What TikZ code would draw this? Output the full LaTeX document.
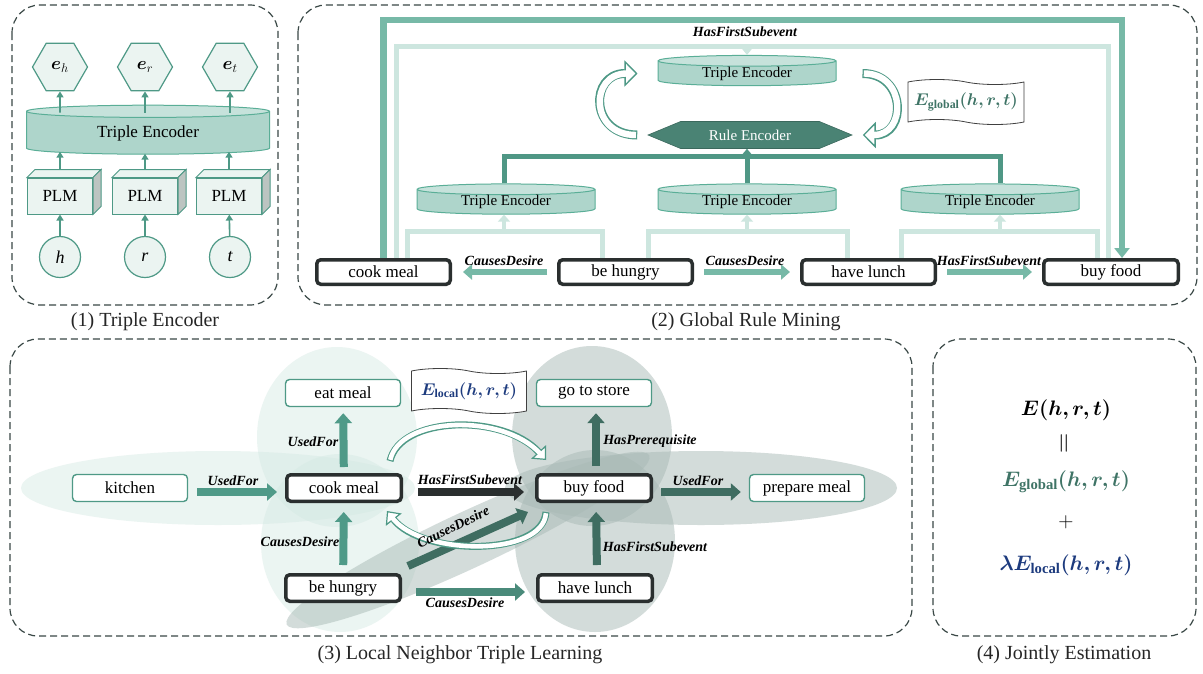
\RequirePackage{fix-cm}
\documentclass[tikz,border=0pt]{standalone}
\usepackage{amsmath,bm}
\usepackage{fontspec}
\setmainfont{Liberation Serif}
\usetikzlibrary{shapes.geometric,shapes.symbols,arrows.meta,calc}
\definecolor{tealline}{HTML}{4E9986}
\definecolor{tealfill}{HTML}{EBF4F1}
\definecolor{encfill}{HTML}{AED5CB}
\definecolor{encline}{HTML}{5AAE97}
\definecolor{ruleteal}{HTML}{4A8374}
\definecolor{ruleline}{HTML}{4F9785}
\definecolor{midteal}{HTML}{77B9A7}
\definecolor{paleteal}{HTML}{CDE6DF}
\definecolor{linkteal}{HTML}{4F9A88}
\definecolor{lowteal}{HTML}{4A8A7A}
\definecolor{deepteal}{HTML}{3F6D61}
\definecolor{darkbox}{HTML}{2A2F2F}
\definecolor{frame}{HTML}{3A4846}
\definecolor{navy}{HTML}{1D3B7E}
\definecolor{globteal}{HTML}{3F7466}
\definecolor{sidegray}{HTML}{BCC4C1}
\definecolor{halo}{HTML}{D4E9E3}
\definecolor{mist}{HTML}{A9BAB6}
\begin{document}
\begin{tikzpicture}[x=1pt,y=-1pt,
  panel/.style={draw=frame,line width=1.2pt,dash pattern=on 7pt off 4pt,rounded corners=28pt},
  caption/.style={font=\fontsize{20}{24}\selectfont,text=black!85},
  event/.style={draw=darkbox,line width=3.5pt,fill=white,rounded corners=4pt,inner sep=0pt,font=\fontsize{17}{20}\selectfont},
  nbr/.style={draw=tealline,line width=1.4pt,fill=white,rounded corners=4pt,inner sep=0pt,minimum width=115pt,minimum height=27pt,font=\fontsize{17}{20}\selectfont},
  rel/.style={font=\fontsize{14}{16}\selectfont\bfseries\itshape,inner sep=0pt},
  encoder/.style={cylinder,shape border rotate=90,aspect=.12,draw=encline,line width=1pt,cylinder uses custom fill,cylinder body fill=encfill,cylinder end fill=encfill!70!white,inner sep=0pt},
  hexa/.style={regular polygon,regular polygon sides=6,minimum size=55pt,draw=tealline,line width=1.2pt,fill=tealfill,inner sep=0pt,font=\fontsize{18}{20}\selectfont},
  plm/.style={draw=tealline,line width=1pt,fill=tealfill,minimum width=65pt,minimum height=36pt,inner sep=0pt,font=\fontsize{17}{20}\selectfont},
  leaf/.style={circle,draw=tealline,line width=1.2pt,fill=tealfill,minimum size=41pt,inner sep=0pt,font=\fontsize{18}{20}\selectfont\itshape},
  thin/.style={draw=tealline,line width=1.6pt,-{Triangle[width=7pt,length=6pt]}},
  fatG/.style={line width=6.5pt,-{Triangle[width=15pt,length=9pt]}},
  fatL/.style={line width=8pt,-{Triangle[width=17pt,length=10pt]}},
  hollowG/.style={line width=9pt,draw=tealline,-{Triangle[width=26pt,length=13pt,line width=1.3pt,fill=white]},postaction={draw=white,line width=6.4pt,-,shorten <=1.3pt,shorten >=11pt}},
  hollowL/.style={line width=7pt,draw=tealline,-{Triangle[width=20pt,length=11pt,line width=1.2pt,fill=white]},postaction={draw=white,line width=4.6pt,-,shorten <=1.2pt,shorten >=9pt}}]
\useasboundingbox (0,0) rectangle (1203,673);
\fill[white] (0,0) rectangle (1203,673);

\draw[panel] (12,5) rectangle (278,305);
\draw[panel] (298,5) rectangle (1197,305);
\draw[panel] (10,339) rectangle (912,636);
\draw[panel] (933,339) rectangle (1196,636);
\node[caption] (cap1) at (145,322) {(1) Triple Encoder};
\node[caption] (cap2) at (746,322) {(2) Global Rule Mining};
\node[caption] (cap3) at (460,655) {(3) Local Neighbor Triple Learning};
\node[caption] (cap4) at (1064,655) {(4) Jointly Estimation};

\node[hexa] (eh) at (60,67) {$\bm{e}_h$};
\node[hexa] (er) at (145,67) {$\bm{e}_r$};
\node[hexa] (et) at (230,67) {$\bm{e}_t$};
\node[encoder,minimum width=243pt,minimum height=49pt,font=\fontsize{17}{20}\selectfont] (enc) at (148,133) {Triple Encoder};
\node[plm] (plmh) at (60,196) {PLM};
\node[plm] (plmr) at (145,196) {PLM};
\node[plm] (plmt) at (229,196) {PLM};
\draw[tealline,line width=1pt,fill=tealfill] (plmh.north west) -- ++(8,-8) -- ([shift={(8,-8)}]plmh.north east) -- (plmh.north east) -- cycle;
\draw[tealline,line width=1pt,fill=sidegray] (plmh.north east) -- ++(8,-8) -- ([shift={(8,-8)}]plmh.south east) -- (plmh.south east) -- cycle;
\draw[tealline,line width=1pt,fill=tealfill] (plmr.north west) -- ++(8,-8) -- ([shift={(8,-8)}]plmr.north east) -- (plmr.north east) -- cycle;
\draw[tealline,line width=1pt,fill=sidegray] (plmr.north east) -- ++(8,-8) -- ([shift={(8,-8)}]plmr.south east) -- (plmr.south east) -- cycle;
\draw[tealline,line width=1pt,fill=tealfill] (plmt.north west) -- ++(8,-8) -- ([shift={(8,-8)}]plmt.north east) -- (plmt.north east) -- cycle;
\draw[tealline,line width=1pt,fill=sidegray] (plmt.north east) -- ++(8,-8) -- ([shift={(8,-8)}]plmt.south east) -- (plmt.south east) -- cycle;
\node[leaf] (h) at (60,257) {h};
\node[leaf] (r) at (145,257) {r};
\node[leaf] (t) at (230,257) {t};
\draw[thin] (h) -- (plmh);
\draw[thin] (r) -- (plmr);
\draw[thin] (t) -- (plmt);
\draw[thin] ($(plmh.north)+(0,-8)$) -- ($(plmh.north |- enc.south)+(0,-3)$);
\draw[thin] ($(plmr.north)+(0,-8)$) -- ($(plmr.north |- enc.south)+(0,-1)$);
\draw[thin] ($(plmt.north)+(0,-8)$) -- ($(plmt.north |- enc.south)+(0,-3)$);
\draw[thin] ($(eh.south |- enc.north)+(0,8)$) -- (eh);
\draw[thin] ($(er.south |- enc.north)+(0,8)$) -- (er);
\draw[thin] ($(et.south |- enc.north)+(0,8)$) -- (et);

\node[event,minimum width=133.5pt,minimum height=24.5pt] (cookG) at (383.5,272) {cook meal};
\node[event,minimum width=133.5pt,minimum height=24.5pt] (hungryG) at (625.5,272) {be hungry};
\node[event,minimum width=133.5pt,minimum height=24.5pt] (lunchG) at (868.5,272) {have lunch};
\node[event,minimum width=134.5pt,minimum height=24.5pt] (foodG) at (1111,272) {buy food};
\node[encoder,minimum width=178pt,minimum height=26pt,font=\fontsize{15}{18}\selectfont] (encT) at (747,73.5) {Triple Encoder};
\node[encoder,minimum width=178pt,minimum height=26pt,font=\fontsize{15}{18}\selectfont] (encL) at (506,202) {Triple Encoder};
\node[encoder,minimum width=178pt,minimum height=26pt,font=\fontsize{15}{18}\selectfont] (encM) at (747,202) {Triple Encoder};
\node[encoder,minimum width=178pt,minimum height=26pt,font=\fontsize{15}{18}\selectfont] (encR) at (990,202) {Triple Encoder};
\node[signal,signal to=west and east,signal pointer angle=45,fill=ruleteal,draw=ruleteal!80!black,line width=.6pt,minimum width=204pt,minimum height=27pt,inner sep=0pt,text=white,font=\fontsize{15}{18}\selectfont] (rule) at (750,135) {Rule Encoder};
\node[tape,draw=black!75,line width=.8pt,fill=white,minimum width=116pt,minimum height=45pt,tape bend top=out and in,tape bend bottom=out and in,tape bend height=5pt,text=globteal,font=\fontsize{17}{20}\selectfont] (eglob) at (966,102) {$\bm{E}_{\mathbf{global}}\bm{(h,r,t)}$};

\draw[midteal,line width=6.5pt,-{Triangle[width=15pt,length=10pt]}] (cookG.north) -- ++(0,-238) -| ([xshift=11pt]foodG.north);
\draw[paleteal,line width=5pt] ([xshift=13pt]cookG.north) -- ++(0,-212) -| ([xshift=-3pt]foodG.north);
\coordinate (paleTop) at (747,48);
\draw[paleteal,line width=4pt,-{Triangle[width=11pt,length=7pt]}] (paleTop) -- (encT.north);
\node[rel] (hfsTop) at (745,32) {HasFirstSubevent};
\draw[paleteal,line width=5pt] ([xshift=24pt]cookG.north) -- ++(0,-27) -| ([xshift=-23pt]hungryG.north);
\draw[paleteal,line width=5pt] ([xshift=23pt]hungryG.north) -- ++(0,-27) -| ([xshift=-21pt]lunchG.north);
\draw[paleteal,line width=5pt] ([xshift=33pt]lunchG.north) -- ++(0,-27) -| ([xshift=-14pt]foodG.north);
\coordinate (brL) at (504,233);
\coordinate (brM) at (747,233);
\coordinate (brR) at (1000,233);
\draw[paleteal,line width=4.5pt,-{Triangle[width=12pt,length=7pt]}] (brL) -- (brL |- encL.south);
\draw[paleteal,line width=4.5pt,-{Triangle[width=12pt,length=7pt]}] (brM) -- (encM.south);
\draw[paleteal,line width=4.5pt,-{Triangle[width=12pt,length=7pt]}] (brR) -- (brR |- encR.south);
\draw[ruleline,line width=5pt] ([xshift=-2pt]encL.north) -- ++(0,-27) -| ([xshift=10pt]encR.north);
\draw[ruleline,line width=5pt,-{Triangle[width=13pt,length=8pt]}] (encM.north) -- (encM.north |- rule.south);
\draw[hollowG] ([xshift=-10pt]rule.west) .. controls +(-48,0) and +(-48,0) .. ([xshift=-20pt]encT.west);
\draw[hollowG] ([xshift=26pt]encT.east) .. controls +(44,0) and +(44,0) .. ([xshift=10pt]rule.east);
\draw[fatG,midteal,shorten <=10pt,shorten >=11pt] (hungryG) -- (cookG);
\draw[fatG,midteal,shorten <=10pt,shorten >=10pt] (hungryG) -- (lunchG);
\draw[fatG,midteal,shorten <=10pt,shorten >=10pt] (lunchG) -- (foodG);
\node[rel] (cdG1) at (504,261) {CausesDesire};
\node[rel] (cdG2) at (745,261) {CausesDesire};
\node[rel] (hfsG) at (989,261) {HasFirstSubevent};

\fill[halo,opacity=.45] (218,488) ellipse [x radius=197, y radius=37];
\fill[halo,opacity=.45] (337,437) ellipse [x radius=80, y radius=90];
\fill[halo,opacity=.45] (340,543) ellipse [x radius=79, y radius=89];
\fill[mist,opacity=.5] (592,436) ellipse [x radius=80, y radius=90];
\fill[mist,opacity=.5] (595,541) ellipse [x radius=80, y radius=91];
\fill[mist,opacity=.5] (701,488) ellipse [x radius=196, y radius=37];
\fill[mist,opacity=.5,rotate around={25:(468,540)}] (468,540) ellipse [x radius=200, y radius=28];

\node[nbr] (kitchen) at (130,488) {kitchen};
\node[event,minimum width=114.5pt,minimum height=26.5pt] (cookL) at (344,488) {cook meal};
\node[nbr] (eat) at (343,393) {eat meal};
\node[event,minimum width=114.5pt,minimum height=26.5pt] (hungryL) at (343,588) {be hungry};
\node[event,minimum width=114.5pt,minimum height=26.5pt] (foodL) at (594,488) {buy food};
\node[nbr] (store) at (594,393) {go to store};
\node[event,minimum width=114.5pt,minimum height=26.5pt] (lunchL) at (595,588) {have lunch};
\node[nbr] (prep) at (807,488) {prepare meal};
\node[tape,draw=black!75,line width=.8pt,fill=white,minimum width=115pt,minimum height=45pt,tape bend top=out and in,tape bend bottom=out and in,tape bend height=5pt,text=navy,font=\fontsize{17}{20}\selectfont] (eloc) at (469,391) {$\bm{E}_{\mathbf{local}}\bm{(h,r,t)}$};

\draw[fatL,linkteal] ([yshift=-4pt]kitchen.east) ++(9,0) -- ([shift={(-8,0)},yshift=-4pt]cookL.west);
\draw[fatL,linkteal,shorten <=6pt,shorten >=6pt] (cookL) -- (eat);
\draw[fatL,linkteal,shorten <=8pt,shorten >=9pt] (hungryL) -- (cookL);
\draw[fatL,darkbox,shorten <=15pt,shorten >=11pt] ([yshift=-4pt]cookL.east) -- ([yshift=-4pt]foodL.west);
\draw[fatL,deepteal] ([shift={(65,-22)}]hungryL.center) -- ([shift={(-66,24)}]foodL.center);
\draw[fatL,lowteal,shorten <=14pt,shorten >=11pt] ([yshift=-4pt]hungryL.east) -- ([yshift=-4pt]lunchL.west);
\draw[fatL,deepteal,shorten <=8pt,shorten >=9pt] ([xshift=2pt]lunchL.north) -- ([xshift=2pt]foodL.south);
\draw[fatL,deepteal,shorten <=7pt,shorten >=6pt] ([xshift=2pt]foodL.north) -- ([xshift=2pt]store.south);
\draw[fatL,deepteal,shorten <=8pt,shorten >=8pt] ([yshift=-4pt]foodL.east) -- ([yshift=-4pt]prep.west);
\draw[hollowL] ([shift={(-13,-12)}]cookL.north east) .. controls +(10,-45) and +(-43,-47) .. ([shift={(11,-13)}]foodL.north west);
\draw[hollowL] ([shift={(11,9)}]foodL.south west) .. controls +(-3,45) and +(35,45) .. ([shift={(-16,8)}]cookL.south east);
\node[rel] (ufA) at (233,481) {UsedFor};
\node[rel] (ufB) at (313,442) {UsedFor};
\node[rel] (cdA) at (300,542) {CausesDesire};
\node[rel] (hfsA) at (470,480) {HasFirstSubevent};
\node[rel,rotate=26] (cdB) at (453,527) {CausesDesire};
\node[rel] (cdC) at (465,603) {CausesDesire};
\node[rel] (hp) at (650,441) {HasPrerequisite};
\node[rel] (hfsB) at (655,547) {HasFirstSubevent};
\node[rel] (ufC) at (698,481) {UsedFor};

\node[font=\fontsize{21}{24}\selectfont] (etot) at (1066,410) {$\bm{E(h,r,t)}$};
\node[rotate=90,font=\fontsize{28}{30}\selectfont] (eqs) at (1066,443) {$=$};
\node[text=globteal,font=\fontsize{21}{24}\selectfont] (eg) at (1066,482) {$\bm{E}_{\mathbf{global}}\bm{(h,r,t)}$};
\node[font=\fontsize{21}{24}\selectfont] (plus) at (1066,522) {$+$};
\node[text=navy,font=\fontsize{21}{24}\selectfont] (el) at (1066,565) {$\bm{\lambda E}_{\mathbf{local}}\bm{(h,r,t)}$};
\end{tikzpicture}
\end{document}
